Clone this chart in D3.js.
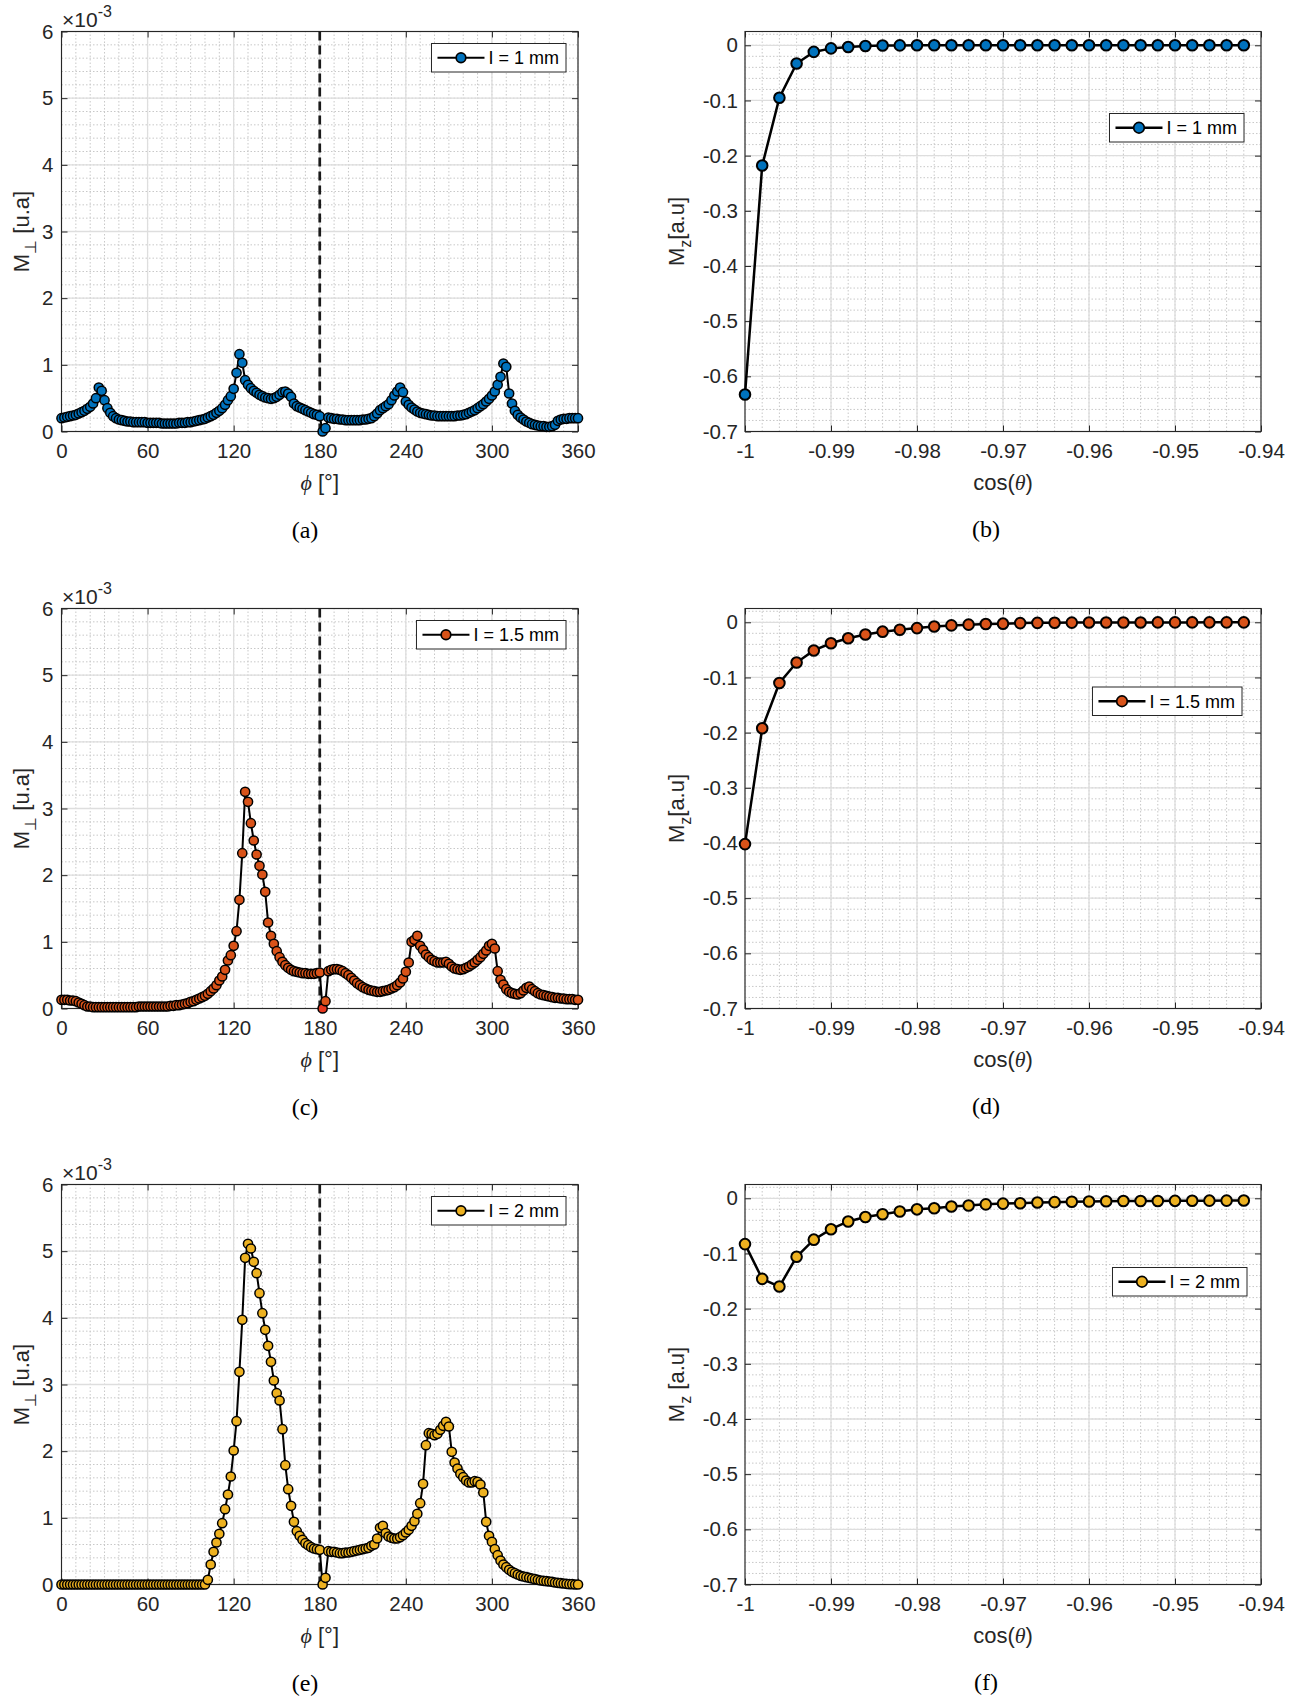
<!DOCTYPE html>
<html>
<head>
<meta charset="utf-8">
<title>M perp / Mz panels</title>
<script src="https://cdn.jsdelivr.net/npm/d3@7"></script>
<style>
  body { margin: 0; background: #fff; }
  svg text { font-family: "Liberation Sans", Arial, sans-serif; fill: #262626; }
  .caption { font-family: "Liberation Serif", "Times New Roman", serif; font-size: 24px; }
  svg text.caption { fill: #000; }
  .greek { font-family: "Liberation Serif", "DejaVu Serif", serif; font-style: italic; }
</style>
</head>
<body>
<svg width="1306" height="1700"></svg>
<script>
// phi axis is sampled every 2 degrees (0..360)
var phiDeg = d3.range(0, 361, 2);

// M_perp (x1e-3) for each thickness, one row = 20 degrees
var mPerp1 = [
    0.20, 0.21, 0.22, 0.23, 0.24, 0.25, 0.27, 0.29, 0.31, 0.34,
    0.37, 0.42, 0.50, 0.66, 0.61, 0.47, 0.35, 0.28, 0.23, 0.20,
    0.18, 0.17, 0.16, 0.15, 0.15, 0.14, 0.14, 0.14, 0.14, 0.14,
    0.13, 0.13, 0.13, 0.13, 0.13, 0.12, 0.12, 0.12, 0.12, 0.12,
    0.12, 0.13, 0.13, 0.13, 0.14, 0.14, 0.15, 0.16, 0.17, 0.18,
    0.19, 0.21, 0.23, 0.25, 0.28, 0.31, 0.35, 0.40, 0.47, 0.53,
    0.64, 0.88, 1.16, 1.03, 0.77, 0.70, 0.65, 0.61, 0.58, 0.55,
    0.53, 0.51, 0.50, 0.49, 0.50, 0.52, 0.55, 0.59, 0.60, 0.57,
    0.52, 0.42, 0.38, 0.36, 0.34, 0.32, 0.30, 0.28, 0.26, 0.25,
    0.23, 0.00, 0.05, 0.21, 0.20, 0.19, 0.19, 0.18, 0.18, 0.17,
    0.17, 0.17, 0.17, 0.17, 0.17, 0.18, 0.18, 0.19, 0.20, 0.23,
    0.27, 0.32, 0.35, 0.38, 0.41, 0.47, 0.54, 0.60, 0.66, 0.59,
    0.45, 0.40, 0.36, 0.33, 0.30, 0.28, 0.27, 0.26, 0.25, 0.24,
    0.24, 0.23, 0.23, 0.23, 0.23, 0.23, 0.23, 0.23, 0.24, 0.24,
    0.25, 0.26, 0.28, 0.30, 0.32, 0.35, 0.38, 0.41, 0.45, 0.49,
    0.54, 0.60, 0.70, 0.82, 1.02, 0.97, 0.57, 0.42, 0.31, 0.25,
    0.21, 0.18, 0.15, 0.13, 0.11, 0.10, 0.09, 0.08, 0.08, 0.07,
    0.07, 0.08, 0.10, 0.16, 0.18, 0.19, 0.19, 0.20, 0.20, 0.20,
    0.20
];

var mPerp15 = [
    0.13, 0.13, 0.13, 0.12, 0.12, 0.11, 0.09, 0.07, 0.05, 0.03,
    0.03, 0.02, 0.02, 0.02, 0.02, 0.02, 0.02, 0.02, 0.02, 0.02,
    0.02, 0.02, 0.02, 0.02, 0.02, 0.02, 0.02, 0.03, 0.03, 0.03,
    0.03, 0.03, 0.03, 0.03, 0.03, 0.03, 0.03, 0.03, 0.04, 0.04,
    0.05, 0.05, 0.06, 0.07, 0.08, 0.10, 0.11, 0.13, 0.15, 0.17,
    0.19, 0.22, 0.26, 0.30, 0.35, 0.42, 0.48, 0.58, 0.72, 0.80,
    0.94, 1.16, 1.63, 2.33, 3.25, 3.10, 2.78, 2.52, 2.31, 2.14,
    2.01, 1.75, 1.29, 1.09, 0.97, 0.86, 0.77, 0.70, 0.65, 0.61,
    0.58, 0.56, 0.55, 0.54, 0.53, 0.53, 0.52, 0.52, 0.52, 0.53,
    0.54, 0.00, 0.11, 0.56, 0.58, 0.59, 0.59, 0.58, 0.56, 0.53,
    0.50, 0.46, 0.42, 0.38, 0.35, 0.32, 0.30, 0.28, 0.27, 0.26,
    0.25, 0.25, 0.26, 0.27, 0.28, 0.30, 0.32, 0.35, 0.39, 0.45,
    0.55, 0.69, 1.00, 1.03, 1.09, 0.94, 0.88, 0.81, 0.77, 0.73,
    0.71, 0.69, 0.69, 0.69, 0.70, 0.67, 0.63, 0.60, 0.59, 0.58,
    0.59, 0.61, 0.63, 0.66, 0.69, 0.73, 0.77, 0.82, 0.87, 0.94,
    0.97, 0.90, 0.56, 0.43, 0.36, 0.29, 0.25, 0.23, 0.22, 0.21,
    0.23, 0.27, 0.31, 0.33, 0.29, 0.26, 0.23, 0.21, 0.20, 0.19,
    0.18, 0.17, 0.16, 0.16, 0.15, 0.15, 0.14, 0.14, 0.14, 0.13,
    0.13
];

var mPerp2 = [
    0, 0, 0, 0, 0, 0, 0, 0, 0, 0,
    0, 0, 0, 0, 0, 0, 0, 0, 0, 0,
    0, 0, 0, 0, 0, 0, 0, 0, 0, 0,
    0, 0, 0, 0, 0, 0, 0, 0, 0, 0,
    0, 0, 0, 0, 0, 0, 0, 0, 0, 0,
    0.00, 0.07, 0.30, 0.49, 0.63, 0.76, 0.92, 1.13, 1.35, 1.62,
    2.01, 2.45, 3.19, 3.97, 4.90, 5.11, 5.04, 4.84, 4.67, 4.37,
    4.07, 3.82, 3.58, 3.34, 3.06, 2.87, 2.76, 2.33, 1.79, 1.43,
    1.18, 0.94, 0.80, 0.73, 0.67, 0.62, 0.59, 0.56, 0.54, 0.53,
    0.52, 0.00, 0.10, 0.50, 0.49, 0.49, 0.48, 0.47, 0.47, 0.48,
    0.48, 0.49, 0.50, 0.51, 0.52, 0.53, 0.54, 0.55, 0.58, 0.60,
    0.69, 0.85, 0.88, 0.77, 0.72, 0.70, 0.69, 0.69, 0.71, 0.74,
    0.78, 0.82, 0.88, 0.95, 1.06, 1.22, 1.51, 2.09, 2.27, 2.26,
    2.24, 2.26, 2.32, 2.38, 2.44, 2.37, 1.99, 1.83, 1.74, 1.66,
    1.61, 1.56, 1.53, 1.53, 1.55, 1.54, 1.50, 1.38, 0.94, 0.73,
    0.64, 0.53, 0.44, 0.36, 0.30, 0.26, 0.22, 0.19, 0.17, 0.15,
    0.13, 0.12, 0.11, 0.10, 0.09, 0.08, 0.07, 0.06, 0.055, 0.05,
    0.045, 0.04, 0.03, 0.025, 0.02, 0.015, 0.01, 0.005, 0.005, 0.0,
    0.0
];

var cosTheta = [
    -1, -0.998, -0.996, -0.994, -0.992, -0.99, -0.988, -0.986, -0.984, -0.982,
    -0.98, -0.978, -0.976, -0.974, -0.972, -0.97, -0.968, -0.966, -0.964, -0.962,
    -0.96, -0.958, -0.956, -0.954, -0.952, -0.95, -0.948, -0.946, -0.944, -0.942
];

var mz1 = [
    -0.633, -0.218, -0.095, -0.033, -0.012, -0.0056, -0.003, -0.0012, -0.0005, -0.0002,
    0, 0, 0, 0, 0, 0, 0, 0, 0, 0,
    0, 0, 0, 0, 0, 0, 0, 0, 0, 0
];

var mz15 = [
    -0.402, -0.192, -0.110, -0.073, -0.051, -0.038, -0.029, -0.022, -0.017, -0.0136,
    -0.0105, -0.0075, -0.0056, -0.0043, -0.003, -0.0025, -0.0015, -0.001, -0.0008, -0.0006,
    -0.0005, -0.0004, -0.0003, -0.0003, -0.0002, -0.0002, -0.0002, -0.0001, -0.0001, -0.0001
];

var mz2 = [
    -0.083, -0.146, -0.160, -0.106, -0.075, -0.056, -0.042, -0.034, -0.029, -0.024,
    -0.020, -0.018, -0.015, -0.013, -0.011, -0.0096, -0.009, -0.0076, -0.007, -0.0064,
    -0.0057, -0.0054, -0.005, -0.005, -0.0048, -0.0046, -0.0044, -0.0043, -0.0042, -0.004
];

var phiTicks = [0, 60, 120, 180, 240, 300, 360],
    perpTicks = [0, 1, 2, 3, 4, 5, 6],
    cosTicks = [-1, -0.99, -0.98, -0.97, -0.96, -0.95, -0.94],
    cosTickLabels = ["-1", "-0.99", "-0.98", "-0.97", "-0.96", "-0.95", "-0.94"],
    mzTicks = [0, -0.1, -0.2, -0.3, -0.4, -0.5, -0.6, -0.7],
    mzTickLabels = ["0", "-0.1", "-0.2", "-0.3", "-0.4", "-0.5", "-0.6", "-0.7"];

var legendLabels = ["I = 1 mm", "I = 1.5 mm", "I = 2 mm"],
    leftCaptions = ["(a)", "(c)", "(e)"],
    rightCaptions = ["(b)", "(d)", "(f)"],
    mzLabelTail = ["[a.u]", "[a.u]", " [a.u]"];

var svg = d3.select("svg"),
    colors = ["#0072BD", "#D95319", "#EDB120"],
    rowTop = [31.5, 608.5, 1184.5],
    plotH = 400,
    plotW = 516.5,
    leftX = 61.5,
    rightX = 745,
    rightW = 516,
    tickFont = 20.5,
    labelFont = 22,
    ink = "#262626";

// grid + box + inner ticks on all four sides
function drawFrame(g, x, y, xMinor, yMinor, xTicks, yTicks, xFmt, yFmt, yPad) {
    var x0 = x.range()[0], x1 = x.range()[1],
        y0 = y.range()[0], y1 = y.range()[1];

    g.append("g").selectAll("line")
        .data(xMinor)
        .enter().append("line")
        .attr("x1", function(d) { return x(d); })
        .attr("x2", function(d) { return x(d); })
        .attr("y1", y0).attr("y2", y1)
        .attr("stroke", "#c8c8c8")
        .attr("stroke-width", 1)
        .attr("stroke-dasharray", "1.5,2");

    g.append("g").selectAll("line")
        .data(yMinor)
        .enter().append("line")
        .attr("x1", x0).attr("x2", x1)
        .attr("y1", function(d) { return y(d); })
        .attr("y2", function(d) { return y(d); })
        .attr("stroke", "#c8c8c8")
        .attr("stroke-width", 1)
        .attr("stroke-dasharray", "1.5,2");

    g.append("g").selectAll("line")
        .data(xTicks)
        .enter().append("line")
        .attr("x1", function(d) { return x(d); })
        .attr("x2", function(d) { return x(d); })
        .attr("y1", y0).attr("y2", y1)
        .attr("stroke", "#dedede")
        .attr("stroke-width", 1.3);

    g.append("g").selectAll("line")
        .data(yTicks)
        .enter().append("line")
        .attr("x1", x0).attr("x2", x1)
        .attr("y1", function(d) { return y(d); })
        .attr("y2", function(d) { return y(d); })
        .attr("stroke", "#dedede")
        .attr("stroke-width", 1.3);

    function styleAxis(a) {
        a.attr("color", ink)
            .attr("font-size", tickFont)
            .attr("font-family", "Liberation Sans, Arial, sans-serif");
        a.selectAll("text").style("font-size", tickFont + "px");
        a.select(".domain").remove();
    }

    g.append("g")
        .attr("transform", "translate(0," + y0 + ")")
        .call(d3.axisBottom(x).tickValues(xTicks).tickSizeInner(-6).tickSizeOuter(0)
            .tickPadding(12).tickFormat(xFmt))
        .call(styleAxis);
    g.append("g")
        .attr("transform", "translate(0," + y1 + ")")
        .call(d3.axisTop(x).tickValues(xTicks).tickSizeInner(-6).tickSizeOuter(0)
            .tickFormat(""))
        .call(styleAxis);
    g.append("g")
        .attr("transform", "translate(" + x0 + ",0)")
        .call(d3.axisLeft(y).tickValues(yTicks).tickSizeInner(-6).tickSizeOuter(0)
            .tickPadding(yPad).tickFormat(yFmt))
        .call(styleAxis);
    g.append("g")
        .attr("transform", "translate(" + x1 + ",0)")
        .call(d3.axisRight(y).tickValues(yTicks).tickSizeInner(-6).tickSizeOuter(0)
            .tickFormat(""))
        .call(styleAxis);

    g.append("rect")
        .attr("x", x0).attr("y", y1)
        .attr("width", x1 - x0).attr("height", y0 - y1)
        .attr("fill", "none")
        .attr("stroke", ink)
        .attr("stroke-width", 1.1);
}

function drawLegend(g, right, top, label, color, r, lw) {
    var lg = g.append("g");
    var txt = lg.append("text")
        .style("font-size", "18px")
        .style("fill", "#000")
        .text(label);
    var tw = txt.node().getComputedTextLength(),
        w = 6 + 47 + 4 + tw + 7,
        h = 28.5,
        left = right - w;

    lg.insert("rect", "text")
        .attr("x", left).attr("y", top)
        .attr("width", w).attr("height", h)
        .attr("fill", "#fff")
        .attr("stroke", ink)
        .attr("stroke-width", 1);
    lg.append("line")
        .attr("x1", left + 6).attr("x2", left + 53)
        .attr("y1", top + h / 2).attr("y2", top + h / 2)
        .attr("stroke", "#000")
        .attr("stroke-width", lw);
    lg.append("circle")
        .attr("cx", left + 29.5).attr("cy", top + h / 2)
        .attr("r", r)
        .attr("fill", color)
        .attr("stroke", "#000")
        .attr("stroke-width", 1.7);
    txt.attr("x", left + 57).attr("y", top + h / 2 + 6.5);
}

function drawPhiPanel(i, values) {
    var top = rowTop[i],
        bottom = top + plotH,
        x = d3.scaleLinear().domain([0, 360]).range([leftX, leftX + plotW]),
        y = d3.scaleLinear().domain([0, 6]).range([bottom, top]),
        g = svg.append("g");

    drawFrame(g, x, y, d3.range(0, 361, 10), d3.range(0, 6.001, 0.2),
        phiTicks, perpTicks, function(d) { return d; }, function(d) { return d; }, 8);

    // exponent label
    var ex = g.append("text")
        .attr("x", leftX + 0.5)
        .attr("y", top - 5)
        .style("font-size", "21px")
        .text("\u00d710");
    ex.append("tspan").attr("dy", -10).style("font-size", "16px").text("-3");

    // phi = 180 marker
    g.append("line")
        .attr("x1", x(180)).attr("x2", x(180))
        .attr("y1", top).attr("y2", bottom)
        .attr("stroke", "#1a1a1a")
        .attr("stroke-width", 2.7)
        .attr("stroke-dasharray", "9,5");

    var pts = d3.zip(phiDeg, values);
    var line = d3.line()
        .x(function(d) { return x(d[0]); })
        .y(function(d) { return y(d[1]); });

    g.append("path")
        .datum(pts)
        .attr("d", line)
        .attr("fill", "none")
        .attr("stroke", "#000")
        .attr("stroke-width", 2);

    g.append("g").selectAll("circle")
        .data(pts)
        .enter().append("circle")
        .attr("cx", function(d) { return x(d[0]); })
        .attr("cy", function(d) { return y(d[1]); })
        .attr("r", 4.6)
        .attr("fill", function(d) {
            // the null sample just past 180 shows up redder in panel (c)
            if (i == 1 && d[0] == 182) return "#e8381f";
            return colors[i];
        })
        .attr("stroke", "#000")
        .attr("stroke-width", 1.5);

    // axis labels
    var yl = g.append("text")
        .attr("transform", "translate(29," + (top + plotH / 2) + ") rotate(-90)")
        .attr("text-anchor", "middle")
        .style("font-size", labelFont + "px")
        .text("M");
    yl.append("tspan").attr("dy", 7).style("font-size", "16px").text("\u22a5");
    yl.append("tspan").attr("dy", -7).text(" [u.a]");

    var xl = g.append("text")
        .attr("x", leftX + plotW / 2)
        .attr("y", bottom + 58)
        .attr("text-anchor", "middle")
        .style("font-size", labelFont + "px");
    xl.append("tspan").attr("class", "greek").text("\u03d5");
    xl.append("tspan").text(" [\u00b0]");

    drawLegend(g, leftX + plotW - 12, top + 12, legendLabels[i], colors[i], 4.8, 2);

    g.append("text")
        .attr("class", "caption")
        .attr("x", 305)
        .attr("y", bottom + 106)
        .attr("text-anchor", "middle")
        .text(leftCaptions[i]);
}

var rightLegendPos = [[17, 82], [19, 78.5], [14, 83]];

function drawCosPanel(i, values) {
    var top = rowTop[i],
        bottom = top + plotH,
        x = d3.scaleLinear().domain([-1, -0.94]).range([rightX, rightX + rightW]),
        y = d3.scaleLinear().domain([-0.7, 0.025]).range([bottom, top]),
        g = svg.append("g");

    drawFrame(g, x, y, d3.range(0, 31).map(function(k) { return -1 + k * 0.002; }),
        d3.range(0, 37).map(function(k) { return -0.7 + k * 0.02; }),
        cosTicks, mzTicks,
        function(d, k) { return cosTickLabels[k]; },
        function(d, k) { return mzTickLabels[k]; }, 7);

    var pts = d3.zip(cosTheta, values);
    var line = d3.line()
        .x(function(d) { return x(d[0]); })
        .y(function(d) { return y(d[1]); });

    g.append("path")
        .datum(pts)
        .attr("d", line)
        .attr("fill", "none")
        .attr("stroke", "#000")
        .attr("stroke-width", 2.5);

    g.append("g").selectAll("circle")
        .data(pts)
        .enter().append("circle")
        .attr("cx", function(d) { return x(d[0]); })
        .attr("cy", function(d) { return y(d[1]); })
        .attr("r", 5.3)
        .attr("fill", colors[i])
        .attr("stroke", "#000")
        .attr("stroke-width", 2);

    var yl = g.append("text")
        .attr("transform", "translate(684," + (top + plotH / 2) + ") rotate(-90)")
        .attr("text-anchor", "middle")
        .style("font-size", labelFont + "px")
        .text("M");
    yl.append("tspan").attr("dy", 7).style("font-size", "16px").text("z");
    yl.append("tspan").attr("dy", -7).text(mzLabelTail[i]);

    var xl = g.append("text")
        .attr("x", rightX + rightW / 2)
        .attr("y", bottom + 58)
        .attr("text-anchor", "middle")
        .style("font-size", labelFont + "px");
    xl.append("tspan").text("cos(");
    xl.append("tspan").attr("class", "greek").text("\u03b8");
    xl.append("tspan").text(")");

    drawLegend(g, rightX + rightW - rightLegendPos[i][0], top + rightLegendPos[i][1],
        legendLabels[i], colors[i], 5.3, 2.5);

    g.append("text")
        .attr("class", "caption")
        .attr("x", 986)
        .attr("y", bottom + 105)
        .attr("text-anchor", "middle")
        .text(rightCaptions[i]);
}

[mPerp1, mPerp15, mPerp2].forEach(function(v, i) { drawPhiPanel(i, v); });
[mz1, mz15, mz2].forEach(function(v, i) { drawCosPanel(i, v); });
</script>
</body>
</html>
